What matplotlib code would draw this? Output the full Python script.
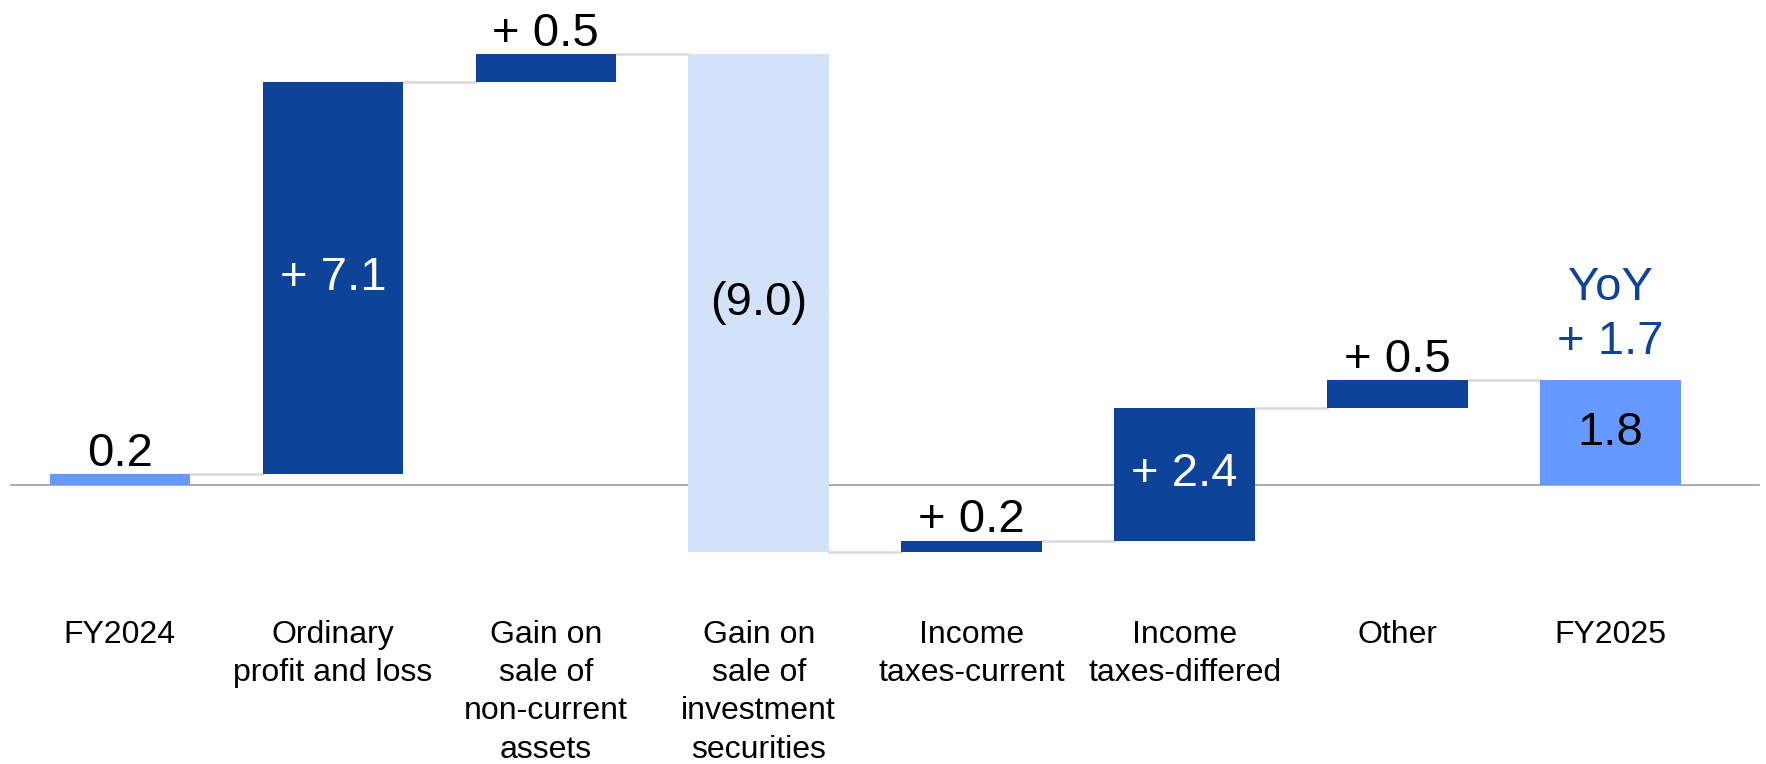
"""
Waterfall: net income bridge FY2024 -> FY2025
"""

import numpy as np
import matplotlib
matplotlib.use('Agg')
import matplotlib.pyplot as plt

plt.rcParams['font.family'] = ['Liberation Sans', 'DejaVu Sans']

# data
categories = ['FY2024', 'Ordinary\nprofit and loss', 'Gain on\nsale of\nnon-current\nassets',
              'Gain on\nsale of\ninvestment\nsecurities', 'Income\ntaxes-current',
              'Income\ntaxes-differed', 'Other', 'FY2025']
start_value = 0.2
deltas = [7.1, 0.5, -9.0, 0.2, 2.4, 0.5]
value_labels = ['0.2', '+ 7.1', '+ 0.5', '(9.0)', '+ 0.2', '+ 2.4', '+ 0.5', '1.8']
yoy_label = 'YoY\n+ 1.7'

# colours
DARK = '#0D4499'
LIGHT = '#D3E2F8'
TOTAL = '#6699FF'
CONNECT = '#D9D9D9'
AXIS = '#A6A6A6'

# bar bottoms / heights
levels = np.concatenate([[0, start_value], start_value + np.cumsum(deltas)])
bottoms, heights, colors = [], [], []
bottoms.append(0)
heights.append(start_value)
colors.append(TOTAL)
for i, d in enumerate(deltas):
    prev = levels[i + 1]
    bottoms.append(min(prev, prev + d))
    heights.append(abs(d))
    colors.append(DARK if d > 0 else LIGHT)
end_value = levels[-1]
bottoms.append(0)
heights.append(end_value)
colors.append(TOTAL)

x = np.arange(len(categories))
width = 0.66

fig = plt.figure(figsize=(17.66, 7.64), dpi=100)
ax = fig.add_axes([0, 0, 1, 1])
ax.set_xlim(-0.563, 7.73)
ax.set_ylim(-5.04, 8.78)
ax.axis('off')

ax.bar(x, heights, width=width, bottom=bottoms, color=colors, zorder=2)
ax.axhline(0, xmin=0.006, xmax=0.996, color=AXIS, linewidth=1.3, zorder=1)

# connectors between bars
for i in range(len(x) - 1):
    ax.plot([x[i] + width / 2, x[i + 1] - width / 2], [levels[i + 1]] * 2,
            color=CONNECT, linewidth=1.8, zorder=1)

# value labels: inside tall bars, above small bars
inside = {1: 'white', 3: 'black', 5: 'white', 7: 'black'}
for i, lab in enumerate(value_labels):
    top = bottoms[i] + heights[i]
    if i in inside:
        ax.text(x[i], bottoms[i] + heights[i] / 2, lab, ha='center', va='center',
                fontsize=34, color=inside[i], zorder=3)
    else:
        ax.annotate(lab, (x[i], top), xytext=(0, 6), textcoords='offset points',
                    ha='center', va='baseline', fontsize=34, color='black')

ax.annotate(yoy_label, (x[-1], end_value), xytext=(0, 19), textcoords='offset points',
            ha='center', va='baseline', fontsize=34, color=DARK, linespacing=1.3,
            multialignment='center')

# category labels
for i, cat in enumerate(categories):
    ax.text(x[i], -2.43, cat, ha='center', va='top', fontsize=23,
            linespacing=1.36, color='black')

plt.savefig('out.png', dpi=100)
